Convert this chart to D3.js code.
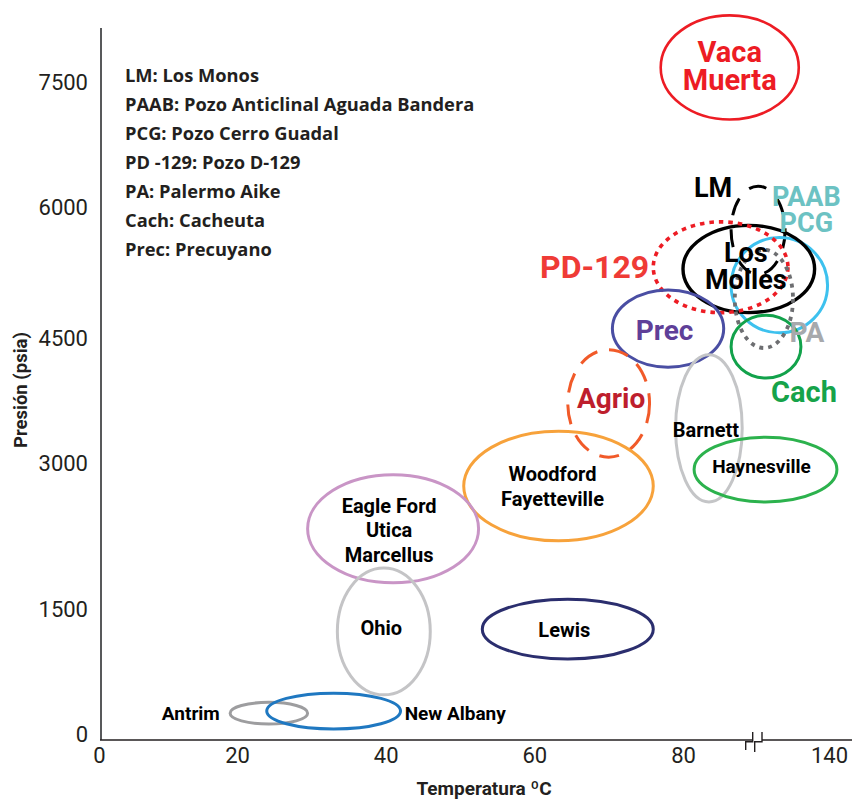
<!DOCTYPE html>
<html><head><meta charset="utf-8">
<script src="https://cdn.jsdelivr.net/npm/d3@7/dist/d3.min.js"></script>
<style>body{margin:0;background:#fff}</style>
</head><body><svg id="chart" width="852" height="800"></svg>
<script>
// ---------------- data ----------------
const plays = ["Vaca Muerta","LM","PAAB/PCG","Los Molles","PD-129","PA","Cach","Prec","Agrio",
  "Barnett","Haynesville","Woodford/Fayetteville","Lewis","Eagle Ford/Utica/Marcellus","Ohio","Antrim","New Albany"];
// temperature range (ºC) and pressure range (psia) of each play
const tempMin = [77, 86.5, 86.5, 80, 76, 87, 86.5, 70.5, 64.5, 79, 81.5, 50.5, 53, 29.5, 33.5, 19, 24];
const tempMax = [119, 109.5, 139, 130, 111.5, 115, 120.5, 85.5, 75.5, 88, 145.5, 76, 76, 52.5, 46, 29.5, 42];
const presMin = [7050, 5230, 4560, 4790, 4790, 4380, 4020, 4150, 3070, 2600, 2600, 2200, 900, 1770, 470, 120, 60];
const presMax = [8300, 6250, 5650, 5790, 5830, 5510, 4760, 5050, 4360, 4300, 3310, 3380, 1600, 2880, 1920, 380, 490];
const labelLines = [["Vaca","Muerta"],["LM"],["PAAB","PCG"],["Los","Molles"],["PD-129"],["PA"],["Cach"],["Prec"],["Agrio"],
  ["Barnett"],["Haynesville"],["Woodford","Fayetteville"],["Lewis"],["Eagle Ford","Utica","Marcellus"],["Ohio"],["Antrim"],["New Albany"]];
const xTickValues = [0, 20, 40, 60, 80, 140];
const xTickLabels = ["0", "20", "40", "60", "80", "140"];
const yTickValues = [0, 1500, 3000, 4500, 6000, 7500];
const yTickLabels = ["0", "1500", "3000", "4500", "6000", "7500"];
const breakTemp = 89.5;
const legendLines = ["LM: Los Monos","PAAB: Pozo Anticlinal Aguada Bandera","PCG: Pozo Cerro Guadal",
  "PD -129: Pozo D-129","PA: Palermo Aike","Cach: Cacheuta","Prec: Precuyano"];
const xTitle = "Temperatura ºC";
const yTitle = "Presión (psia)";

// ---------------- styles ----------------
const ellipseStyle = [
  {c:"#ed1c24", w:2.6, d:null},
  {c:"#000000", w:3, d:"18,14"},
  {c:"#3dc1ee", w:3, d:null},
  {c:"#000000", w:3.4, d:null},
  {c:"#ed1c24", w:3.6, d:"4.5,5"},
  {c:"#6d6e71", w:3.8, d:"4,5"},
  {c:"#12a24b", w:3, d:null},
  {c:"#4a4ea3", w:3, d:null},
  {c:"#f15a29", w:3, d:"20,12"},
  {c:"#c4c5c7", w:3, d:null},
  {c:"#2cb24d", w:3, d:null},
  {c:"#f7a23b", w:3, d:null},
  {c:"#2b2e6e", w:3, d:null},
  {c:"#c995c6", w:3, d:null},
  {c:"#c4c4c6", w:3, d:null},
  {c:"#9d9d9f", w:3, d:null},
  {c:"#1f78c1", w:3, d:null}
];
const labelStyle = [
  {c:"#ed1c24", s:29, dx:0,    dy:-5,   lh:28, a:"middle"},
  {c:"#000000", s:27, dx:-45,  dy:-33,  lh:0,  a:"middle"},
  {c:"#6cc2c3", s:27, dx:27,   dy:-79,  lh:26, a:"middle"},
  {c:"#000000", s:27, dx:-3,   dy:-7.5, lh:27, a:"middle"},
  {c:"#ef3b36", s:32, dx:-126, dy:10.5, lh:0,  a:"middle"},
  {c:"#a7a9ac", s:28, dx:43,   dy:43,   lh:0,  a:"middle"},
  {c:"#16a34a", s:29, dx:38,   dy:55.5, lh:0,  a:"middle"},
  {c:"#5f3f98", s:28, dx:-3.5, dy:11.5, lh:0,  a:"middle"},
  {c:"#be1e2d", s:28, dx:2.5,  dy:4.5,  lh:0,  a:"middle"},
  {c:"#000000", s:20, dx:-3,   dy:8.5,  lh:0,  a:"middle"},
  {c:"#000000", s:19, dx:-4,   dy:3.5,  lh:0,  a:"middle"},
  {c:"#000000", s:20, dx:-6,   dy:-5,   lh:25, a:"middle"},
  {c:"#000000", s:20, dx:-3.5, dy:8,    lh:0,  a:"middle"},
  {c:"#000000", s:20, dx:-4,   dy:-16,  lh:24.5, a:"middle"},
  {c:"#000000", s:20, dx:-2.5, dy:3.5,  lh:0,  a:"middle"},
  {c:"#000000", s:19, dx:-49,  dy:7,    lh:0,  a:"end"},
  {c:"#000000", s:19, dx:71,   dy:9,    lh:0,  a:"start"}
];
const FONT = "Roboto, 'Liberation Sans', sans-serif";
const LEGEND_FONT = "'Open Sans', Roboto, sans-serif";

// ---------------- chart ----------------
const svg = d3.select("#chart");
const frame = {left:101, right:852, top:28, bottom:740};

const x = d3.scaleLinear().domain([0, 20, 80, 90, 140]).range([99, 237, 683, 757, 829]);
const y = d3.scaleLinear().domain([0, 1500, 3000, 4500, 6000, 7500]).range([734, 609, 463, 338, 207, 82]);

// ellipses
const rows = plays.map((p, i) => ({p, i,
  x0: x(tempMin[i]), x1: x(tempMax[i]), y0: y(presMax[i]), y1: y(presMin[i])}));

svg.append("g").selectAll("ellipse").data(rows).join("ellipse")
  .attr("cx", d => (d.x0 + d.x1) / 2)
  .attr("cy", d => (d.y0 + d.y1) / 2)
  .attr("rx", d => (d.x1 - d.x0) / 2)
  .attr("ry", d => (d.y1 - d.y0) / 2)
  .attr("fill", "none")
  .attr("stroke", d => ellipseStyle[d.i].c)
  .attr("stroke-width", d => ellipseStyle[d.i].w)
  .attr("stroke-dasharray", d => ellipseStyle[d.i].d);

// labels
const lg = svg.append("g").attr("font-family", FONT).attr("font-weight", 700);
rows.forEach(d => {
  const st = labelStyle[d.i];
  const cx = (d.x0 + d.x1) / 2, cy = (d.y0 + d.y1) / 2;
  const t = lg.append("text")
    .attr("text-anchor", st.a)
    .attr("fill", st.c)
    .attr("font-size", st.s);
  labelLines[d.i].forEach((line, k) => {
    t.append("tspan").attr("x", cx + st.dx).attr("y", cy + st.dy + k * st.lh).text(line);
  });
});

// axes
const gx = svg.append("g").attr("transform", `translate(0,${frame.bottom})`)
  .call(d3.axisBottom(x).tickValues(xTickValues).tickSize(0).tickPadding(7)
    .tickFormat((d, i) => xTickLabels[i]));
gx.select(".domain").remove();
gx.selectAll("text").attr("font-family", FONT).attr("font-size", 22).attr("font-weight", 400).attr("fill", "#231f20");

const gy = svg.append("g").attr("transform", `translate(${frame.left},0)`)
  .call(d3.axisLeft(y).tickValues(yTickValues).tickSize(0).tickPadding(13)
    .tickFormat((d, i) => yTickLabels[i]));
gy.select(".domain").remove();
gy.selectAll("text").attr("font-family", FONT).attr("font-size", 22).attr("font-weight", 400).attr("fill", "#231f20");

// axis lines with break
const bx = x(breakTemp);
svg.append("line").attr("x1", frame.left).attr("x2", frame.left)
  .attr("y1", frame.top).attr("y2", frame.bottom).attr("stroke", "#58595b").attr("stroke-width", 2);
svg.append("line").attr("x1", frame.left - 1).attr("x2", bx - 0.6)
  .attr("y1", frame.bottom).attr("y2", frame.bottom).attr("stroke", "#231f20").attr("stroke-width", 1.6);
svg.append("line").attr("x1", bx + 8.7).attr("x2", frame.right)
  .attr("y1", frame.bottom).attr("y2", frame.bottom).attr("stroke", "#231f20").attr("stroke-width", 1.6);
const brk = [
  `M${bx-7.6},${frame.bottom+10} V${frame.bottom+1.7} H${bx-0.6} V${frame.bottom-8}`,
  `M${bx+1.4},${frame.bottom+12} V${frame.bottom+1.7} H${bx+8.7} V${frame.bottom-8}`
];
svg.append("g").selectAll("path").data(brk).join("path")
  .attr("d", d => d).attr("fill", "none").attr("stroke", "#231f20").attr("stroke-width", 1.4);

// axis titles
svg.append("text").attr("x", 484).attr("y", 795).attr("text-anchor", "middle")
  .attr("font-family", FONT).attr("font-weight", 700).attr("font-size", 19).attr("fill", "#231f20").text(xTitle);
svg.append("text").attr("transform", "translate(27,390) rotate(-90)").attr("text-anchor", "middle")
  .attr("font-family", FONT).attr("font-weight", 700).attr("font-size", 18.5).attr("fill", "#231f20").text(yTitle);

// legend (abbreviations)
svg.append("g").selectAll("text").data(legendLines).join("text")
  .attr("x", 125).attr("y", (d, i) => 82 + i * 29)
  .attr("font-family", LEGEND_FONT).attr("font-weight", 700).attr("font-size", 18.3).attr("fill", "#231f20")
  .text(d => d);
</script></body></html>
